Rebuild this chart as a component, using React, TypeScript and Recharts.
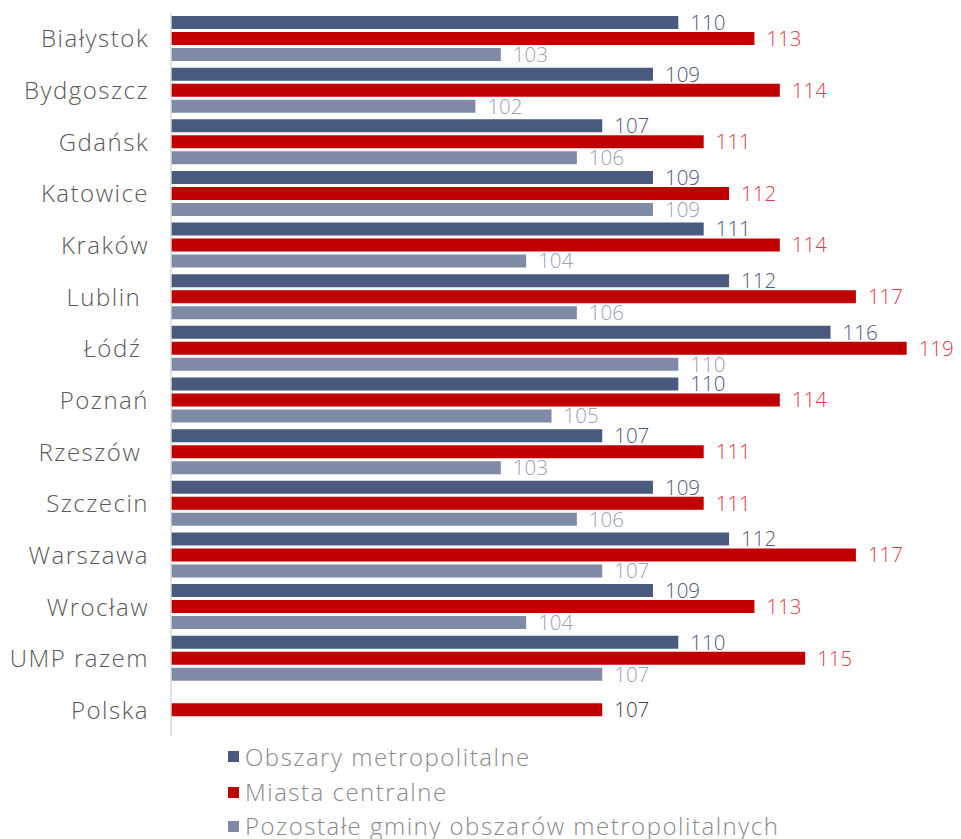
import React from "react";
import { BarChart, Bar, XAxis, YAxis, LabelList, Legend } from "recharts";

const categories = [
  "Białystok", "Bydgoszcz", "Gdańsk", "Katowice", "Kraków", "Lublin ", "Łódź ",
  "Poznań", "Rzeszów ", "Szczecin", "Warszawa", "Wrocław", "UMP razem", "Polska",
];
const obszary = [110, 109, 107, 109, 111, 112, 116, 110, 107, 109, 112, 109, 110, null];
const miasta = [113, 114, 111, 112, 114, 117, 119, 114, 111, 111, 117, 113, 115, 107];
const pozostale = [103, 102, 106, 109, 104, 106, 110, 105, 103, 106, 107, 104, 107, null];

const seriesNames = [
  "Obszary metropolitalne",
  "Miasta centralne",
  "Pozostałe gminy obszarów metropolitalnych",
];

const data = categories.map((c, i) => ({
  name: c,
  obszary: obszary[i],
  miasta: miasta[i],
  pozostale: pozostale[i],
}));

const FONT = "'Open Sans', sans-serif";
const COLORS = ["#4A5A7E", "#C00000", "#7F8AA6"];
const LABEL_COLORS = ["#4E5A7E", "#E23A4A", "#9AA2B8"];

const makeLabel = (color: string) => (props: any) => {
  const { x, y, width, height, value, index } = props;
  if (value == null) return null;
  const fill = categories[index] === "Polska" ? "#404040" : color;
  return (
    <text
      x={x + width + 12}
      y={y + height / 2}
      dy="0.36em"
      fill={fill}
      fontSize={20.5}
      fontFamily={FONT}
      fontWeight={300}
      textAnchor="start"
    >
      {value}
    </text>
  );
};

const CatTick = (props: any) => {
  const { x, y, payload } = props;
  return (
    <text
      x={x}
      y={y}
      dy="0.36em"
      textAnchor="end"
      fill="#595959"
      fontSize={24}
      fontFamily={FONT}
      fontWeight={300}
      letterSpacing={1.5}
      style={{ whiteSpace: "pre" }}
    >
      {payload.value}
    </text>
  );
};

const LegendContent = () => (
  <div
    style={{
      fontFamily: FONT,
      fontWeight: 300,
      fontSize: 24,
      letterSpacing: 1.5,
      color: "#8A8A8A",
      height: 103,
      overflow: "visible",
    }}
  >
    {seriesNames.map((n, i) => (
      <div
        key={n}
        style={{
          display: "flex",
          alignItems: "center",
          height: i < 2 ? 35.5 : 32,
          whiteSpace: "nowrap",
        }}
      >
        <span
          style={{
            display: "inline-block",
            width: 11,
            height: 11,
            background: COLORS[i],
            marginRight: 6,
            flexShrink: 0,
          }}
        />
        <span style={{ lineHeight: "28px" }}>{n}</span>
      </div>
    ))}
  </div>
);

export default function App() {
  return (
    <div style={{ width: 945, height: 831 }}>
      <style>{`svg.recharts-surface { overflow: visible; } .recharts-wrapper { overflow: visible !important; }`}</style>
      <BarChart
        width={945}
        height={831}
        data={data}
        layout="vertical"
        margin={{ top: 5, right: 21, bottom: 0, left: 0 }}
        barSize={13}
        barGap={3}
      >
        <XAxis type="number" domain={[90, 120]} hide allowDataOverflow />
        <YAxis
          type="category"
          dataKey="name"
          width={163}
          tickLine={false}
          tickSize={0}
          tickMargin={22}
          axisLine={{ stroke: "#D9D9D9", strokeWidth: 1.5 }}
          tick={<CatTick />}
          interval={0}
        />
        <Legend
          content={<LegendContent />}
          wrapperStyle={{ position: "absolute", left: 220, top: 731, width: 700, height: 103 }}
        />
        <Bar dataKey="obszary" name={seriesNames[0]} fill={COLORS[0]} isAnimationActive={false}>
          <LabelList dataKey="obszary" content={makeLabel(LABEL_COLORS[0])} />
        </Bar>
        <Bar dataKey="miasta" name={seriesNames[1]} fill={COLORS[1]} isAnimationActive={false}>
          <LabelList dataKey="miasta" content={makeLabel(LABEL_COLORS[1])} />
        </Bar>
        <Bar dataKey="pozostale" name={seriesNames[2]} fill={COLORS[2]} isAnimationActive={false}>
          <LabelList dataKey="pozostale" content={makeLabel(LABEL_COLORS[2])} />
        </Bar>
      </BarChart>
    </div>
  );
}
